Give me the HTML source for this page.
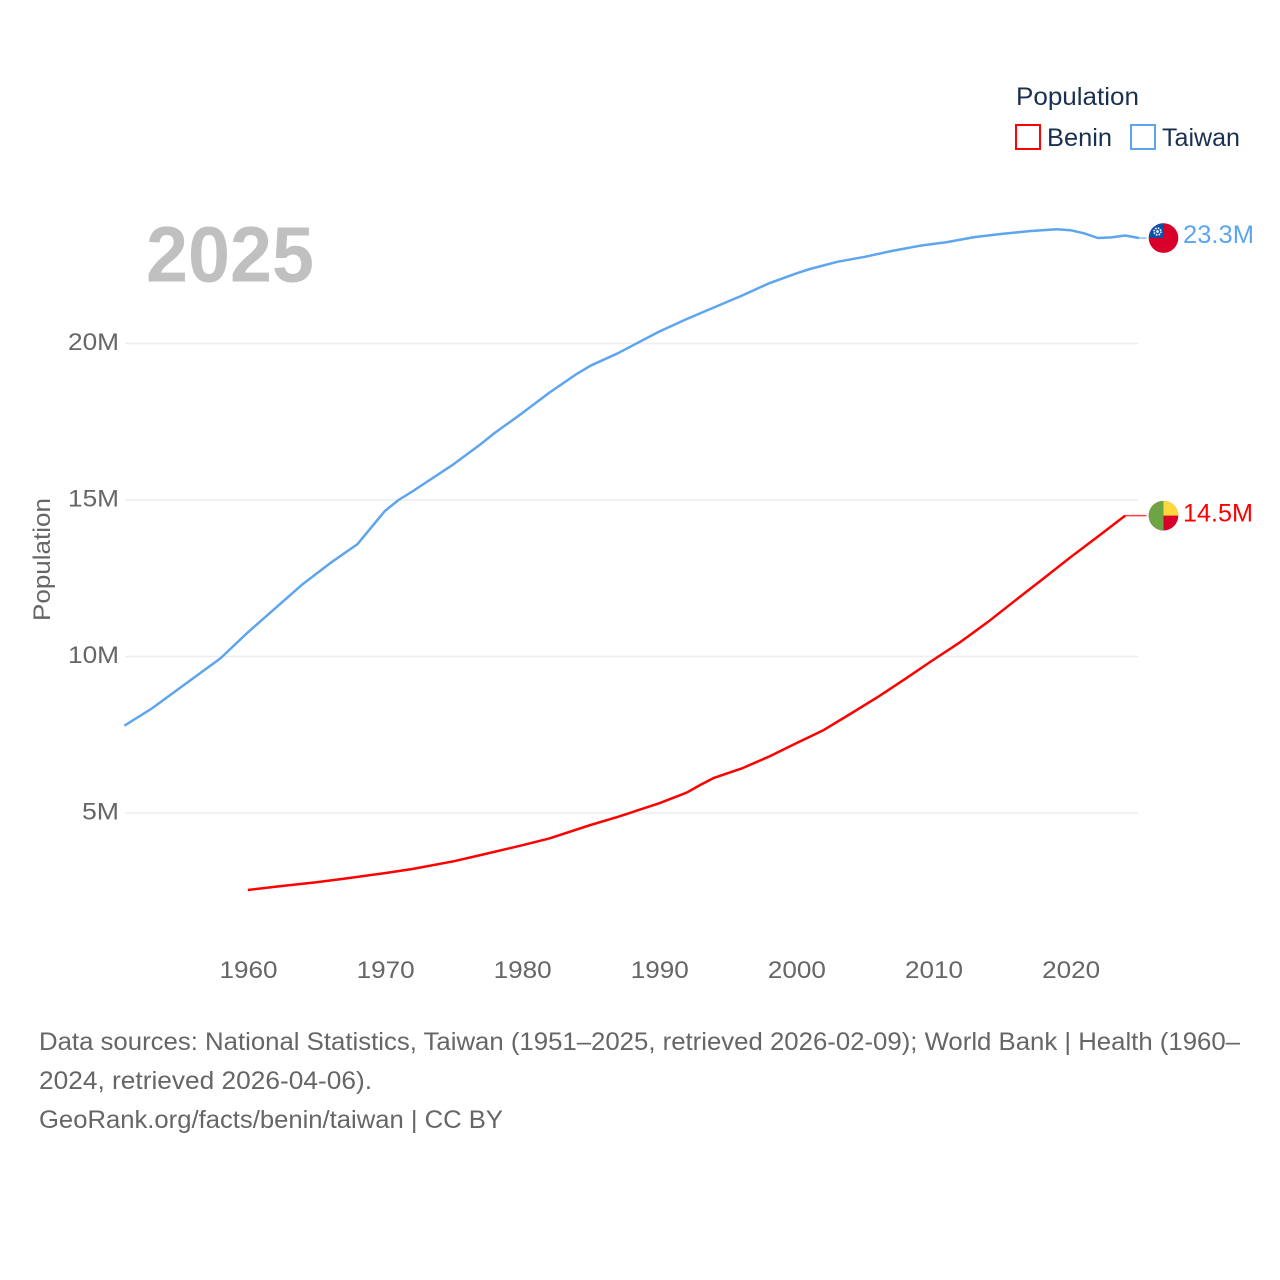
<!DOCTYPE html>
<html lang="en">
<head>
<meta charset="utf-8">
<title>Population: Benin and Taiwan</title>
<style>
html,body{margin:0;padding:0;background:#fff;width:1280px;height:1280px;overflow:hidden}
svg{display:block}
text{font-family:"Liberation Sans",sans-serif}
</style>
</head>
<body>
<svg id="chart" width="1280" height="1280" viewBox="0 0 1280 1280" xmlns="http://www.w3.org/2000/svg">
  <rect width="1280" height="1280" fill="#fff"/>
  <g id="grid"></g>
  <g id="yticks"></g>
  <g id="xticks"></g>
  <text transform="translate(50,621) rotate(-90)" font-size="24" fill="#666" textLength="123" lengthAdjust="spacingAndGlyphs">Population</text>
  <text x="146" y="281.5" font-size="79" font-weight="700" fill="#c0c0c0" textLength="168" lengthAdjust="spacingAndGlyphs">2025</text>
  <g id="series"></g>

  <g>
    <text x="1016" y="105" font-size="25" fill="#1a3050" textLength="123" lengthAdjust="spacingAndGlyphs">Population</text>
    <g>
      <rect x="1016" y="125" width="24" height="24" fill="#fff" stroke="#ff0000" stroke-width="2"/>
      <text x="1047" y="146" font-size="25" fill="#1a3050" textLength="65" lengthAdjust="spacingAndGlyphs">Benin</text>
    </g>
    <g>
      <rect x="1131" y="125" width="24" height="24" fill="#fff" stroke="#5da5ee" stroke-width="2"/>
      <text x="1162" y="146" font-size="25" fill="#1a3050" textLength="78" lengthAdjust="spacingAndGlyphs">Taiwan</text>
    </g>
  </g>

  <g font-size="25" fill="#666">
    <text x="39" y="1050" textLength="1201" lengthAdjust="spacingAndGlyphs">Data sources: National Statistics, Taiwan (1951–2025, retrieved 2026-02-09); World Bank | Health (1960–</text>
    <text x="39" y="1089" textLength="333" lengthAdjust="spacingAndGlyphs">2024, retrieved 2026-04-06).</text>
    <text x="39" y="1128" textLength="464" lengthAdjust="spacingAndGlyphs">GeoRank.org/facts/benin/taiwan | CC BY</text>
  </g>
</svg>
<script>
var xTickYears = [1960, 1970, 1980, 1990, 2000, 2010, 2020];
var yTickValues = [5, 10, 15, 20];
var yTickLabels = ["5M", "10M", "15M", "20M"];

var taiwanYears = [1951, 1953, 1955, 1958, 1960, 1962, 1964, 1966, 1968, 1970, 1971, 1972, 1975, 1977, 1978, 1980, 1982, 1984, 1985, 1987, 1990, 1992, 1995, 1996, 1998, 2000, 2001, 2003, 2005, 2007, 2009, 2011, 2013, 2015, 2017, 2019, 2020, 2021, 2022, 2023, 2024, 2025];
var taiwanValues = [7.79, 8.34, 8.98, 9.94, 10.77, 11.54, 12.31, 12.98, 13.59, 14.65, 15.0, 15.27, 16.14, 16.79, 17.14, 17.77, 18.43, 19.03, 19.29, 19.69, 20.38, 20.78, 21.34, 21.52, 21.92, 22.24, 22.38, 22.61, 22.77, 22.96, 23.12, 23.24, 23.4, 23.5, 23.59, 23.65, 23.62, 23.52, 23.37, 23.39, 23.45, 23.37];

var beninYears = [1960, 1962, 1965, 1967, 1970, 1972, 1975, 1977, 1980, 1982, 1985, 1987, 1990, 1992, 1993, 1994, 1995, 1996, 1998, 2000, 2002, 2004, 2006, 2008, 2010, 2012, 2014, 2016, 2018, 2020, 2022, 2024];
var beninValues = [2.54, 2.645, 2.786, 2.9, 3.08, 3.21, 3.457, 3.658, 3.968, 4.19, 4.617, 4.88, 5.31, 5.65, 5.895, 6.12, 6.27, 6.42, 6.8, 7.23, 7.65, 8.18, 8.72, 9.3, 9.89, 10.47, 11.11, 11.8, 12.48, 13.17, 13.83, 14.5];

var endLabels = ["23.3M", "14.5M"];

var NS = 'http://www.w3.org/2000/svg';
function xScale(year) { return 247.8 + (year - 1960) * 13.71; }
function yScale(value) { return 813 - (value - 5) * 31.3; }
function make(tag, attrs, parent, txt) {
  var el = document.createElementNS(NS, tag);
  for (var k in attrs) { el.setAttribute(k, attrs[k]); }
  if (txt !== undefined) { el.textContent = txt; }
  parent.appendChild(el);
  return el;
}
function linePath(years, values) {
  return years.map(function (yr, i) {
    return (i ? 'L' : 'M') + xScale(yr).toFixed(1) + ' ' + yScale(values[i]).toFixed(1);
  }).join(' ');
}

var grid = document.getElementById('grid');
var yticks = document.getElementById('yticks');
var xticks = document.getElementById('xticks');
var series = document.getElementById('series');

yTickValues.forEach(function (v, i) {
  var y = yScale(v);
  var ln = make('line', {x1: 125, x2: 1138, y1: y, y2: y, stroke: '#eeeeee', 'stroke-width': 1.5}, grid);
  
  
  var t = make('text', {x: 119, y: y + 6.5, 'font-size': 24, fill: '#666', 'text-anchor': 'end'}, yticks, yTickLabels[i]);
  t.setAttribute('textLength', yTickLabels[i].length === 2 ? 37 : 51);
  t.setAttribute('lengthAdjust', 'spacingAndGlyphs');
  
  
});

xTickYears.forEach(function (yr) {
  var t = make('text', {x: xScale(yr) + 0.7, y: 978, 'font-size': 24, fill: '#666', 'text-anchor': 'middle'}, xticks, String(yr));
  t.setAttribute('textLength', 58);
  t.setAttribute('lengthAdjust', 'spacingAndGlyphs');
  
  
});

var flagX = 1163.5;
function endMark(years, values, color, labelText, labelDy, labelLen) {
  var lastX = xScale(years[years.length - 1]);
  var lastY = yScale(values[values.length - 1]);
  var connector = make('line', {x1: lastX, x2: flagX - 17, y1: lastY, y2: lastY, stroke: color, 'stroke-width': 1.5, opacity: 0.75}, series);
  
  
  var label = make('text', {x: 1183, y: lastY + labelDy, 'font-size': 25, fill: color}, series, labelText);
  label.setAttribute('textLength', labelLen);
  label.setAttribute('lengthAdjust', 'spacingAndGlyphs');
  
  
  return lastY;
}

var taiwanPath = make('path', {d: linePath(taiwanYears, taiwanValues), fill: 'none', stroke: '#5da5ee', 'stroke-width': 2.5, 'stroke-linejoin': 'round'}, series);


var beninPath = make('path', {d: linePath(beninYears, beninValues), fill: 'none', stroke: '#ff0000', 'stroke-width': 2.5, 'stroke-linejoin': 'round'}, series);



var ty = endMark(taiwanYears, taiwanValues, '#5da5ee', endLabels[0], 5, 71);
var by = endMark(beninYears, beninValues, '#ff0000', endLabels[1], 6, 70);

var r = 14.8;
var flagT = make('g', {}, series);


make('circle', {cx: flagX, cy: ty, r: r, fill: '#d8002a'}, flagT);
make('path', {d: 'M' + flagX + ' ' + ty + ' V' + (ty - r) + ' A' + r + ' ' + r + ' 0 0 0 ' + (flagX - r) + ' ' + ty + ' Z', fill: '#0b50a8'}, flagT);
make('circle', {cx: flagX - 6, cy: ty - 6.5, r: 3.4, fill: 'none', stroke: '#e8f0fa', 'stroke-width': 1.8, 'stroke-dasharray': '1.6 1.1'}, flagT);
make('circle', {cx: flagX - 6, cy: ty - 6.5, r: 1.4, fill: '#e8f0fa'}, flagT);

var flagB = make('g', {}, series);


make('circle', {cx: flagX, cy: by, r: r, fill: '#d8002a'}, flagB);
make('path', {d: 'M' + flagX + ' ' + by + ' V' + (by - r) + ' A' + r + ' ' + r + ' 0 0 1 ' + (flagX + r) + ' ' + by + ' Z', fill: '#ffd83d'}, flagB);
make('path', {d: 'M' + flagX + ' ' + (by - r) + ' A' + r + ' ' + r + ' 0 0 0 ' + flagX + ' ' + (by + r) + ' Z', fill: '#6da544'}, flagB);
</script>
</body>
</html>
